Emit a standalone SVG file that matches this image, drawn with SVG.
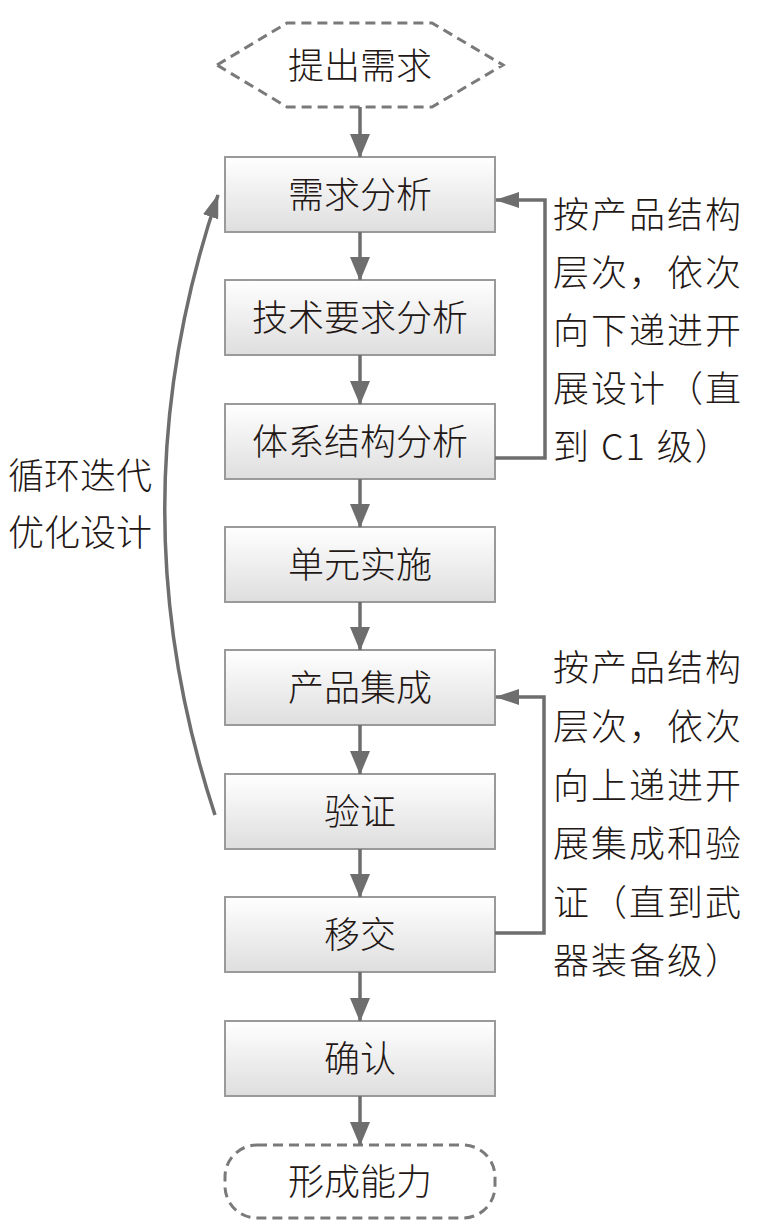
<svg xmlns="http://www.w3.org/2000/svg" width="759" height="1225" viewBox="0 0 759 1225">
<style>
.box{fill:url(#g);stroke:#9a9a9a;stroke-width:2}
.dash{fill:#fff;stroke:#7a7a7a;stroke-width:3;stroke-dasharray:10 6}
.t{font-family:"Noto Sans CJK SC","Noto Sans",sans-serif;font-size:36px;font-weight:300;fill:#231815}
.c{text-anchor:middle}
.side{letter-spacing:2px}
.ln{fill:none;stroke:#6e6e6e;stroke-width:3.5}
</style>
<defs>
<linearGradient id="g" x1="0" y1="0" x2="0" y2="1">
<stop offset="0" stop-color="#ffffff"/>
<stop offset="1" stop-color="#dedede"/>
</linearGradient>
<marker id="ah" viewBox="0 0 24 20" refX="23" refY="10" markerWidth="24" markerHeight="20" markerUnits="userSpaceOnUse" orient="auto">
<path d="M0,0 L24,10 L0,20 Z" fill="#6e6e6e"/>
</marker>
<marker id="ah2" viewBox="0 0 24 16" refX="23" refY="8" markerWidth="24" markerHeight="16" markerUnits="userSpaceOnUse" orient="auto">
<path d="M0,0 L24,8 L0,16 Z" fill="#6e6e6e"/>
</marker>
</defs>
<g id="start"><polygon class="dash" points="217,65 287,23 432,23 503,65 432,107 287,107"/><text class="t c" x="360" y="79">提出需求</text></g>
<g id="n1"><rect class="box" x="225" y="157" width="270" height="75"/><text class="t c" x="360" y="208">需求分析</text></g>
<g id="n2"><rect class="box" x="225" y="280" width="270" height="75"/><text class="t c" x="360" y="331">技术要求分析</text></g>
<g id="n3"><rect class="box" x="225" y="404" width="270" height="75"/><text class="t c" x="360" y="455">体系结构分析</text></g>
<g id="n4"><rect class="box" x="225" y="527" width="270" height="75"/><text class="t c" x="360" y="578">单元实施</text></g>
<g id="n5"><rect class="box" x="225" y="650" width="270" height="75"/><text class="t c" x="360" y="701">产品集成</text></g>
<g id="n6"><rect class="box" x="225" y="774" width="270" height="75"/><text class="t c" x="360" y="825">验证</text></g>
<g id="n7"><rect class="box" x="225" y="897" width="270" height="75"/><text class="t c" x="360" y="948">移交</text></g>
<g id="n8"><rect class="box" x="225" y="1021" width="270" height="75"/><text class="t c" x="360" y="1072">确认</text></g>
<g id="end"><rect class="dash" x="225" y="1145" width="270" height="73" rx="32"/><text class="t c" x="360" y="1195">形成能力</text></g>
<g id="connectors">
<line class="ln" x1="360" y1="107" x2="360" y2="157" marker-end="url(#ah)"/>
<line class="ln" x1="360" y1="232" x2="360" y2="280" marker-end="url(#ah)"/>
<line class="ln" x1="360" y1="355" x2="360" y2="404" marker-end="url(#ah)"/>
<line class="ln" x1="360" y1="479" x2="360" y2="527" marker-end="url(#ah)"/>
<line class="ln" x1="360" y1="602" x2="360" y2="650" marker-end="url(#ah)"/>
<line class="ln" x1="360" y1="725" x2="360" y2="774" marker-end="url(#ah)"/>
<line class="ln" x1="360" y1="849" x2="360" y2="897" marker-end="url(#ah)"/>
<line class="ln" x1="360" y1="972" x2="360" y2="1021" marker-end="url(#ah)"/>
<line class="ln" x1="360" y1="1096" x2="360" y2="1145" marker-end="url(#ah)"/>
<path class="ln" d="M495,458 H545 V200 H496" marker-end="url(#ah2)"/>
<path class="ln" d="M495,933 H544 V697 H496" marker-end="url(#ah2)"/>
<path class="ln" d="M215,815 Q113,505 218,195" marker-end="url(#ah2)"/>
</g>
<g id="note1" class="t side">
<text x="553" y="228">按产品结构</text>
<text x="553" y="286">层次，依次</text>
<text x="553" y="344">向下递进开</text>
<text x="553" y="402">展设计（直</text>
<text x="553" y="460">到 C1 级）</text>
</g>
<g id="note2" class="t side">
<text x="553" y="681">按产品结构</text>
<text x="553" y="740">层次，依次</text>
<text x="553" y="799">向上递进开</text>
<text x="553" y="857">展集成和验</text>
<text x="553" y="916">证（直到武</text>
<text x="553" y="974">器装备级）</text>
</g>
<g id="note3" class="t">
<text x="8" y="489">循环迭代</text>
<text x="8" y="546">优化设计</text>
</g>
</svg>
